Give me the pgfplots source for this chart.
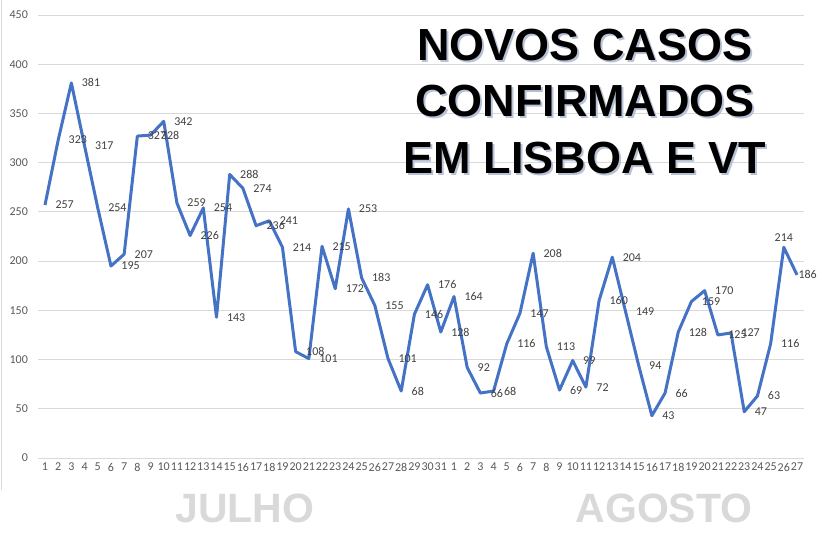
\documentclass[border=0pt]{standalone}
\usepackage{pgfplots}
\pgfplotsset{compat=1.18}
\usepackage{fontspec}
\setmainfont{Carlito}
\newfontfamily\titlefont{Liberation Sans}
\definecolor{excelblue}{HTML}{4472C4}
\definecolor{gridgray}{HTML}{D9D9D9}
\definecolor{ticktext}{HTML}{595959}
\definecolor{labeltext}{HTML}{404040}
\definecolor{shadowc}{HTML}{B8C2D6}
\definecolor{monthgray}{HTML}{D9D9D9}

% day index (1-31 July, 32-58 August), new cases
\pgfplotstableread{
x y
1 257
2 323
3 381
4 317
5 254
6 195
7 207
8 327
9 328
10 342
11 259
12 226
13 254
14 143
15 288
16 274
17 236
18 241
19 214
20 108
21 101
22 215
23 172
24 253
25 183
26 155
27 101
28 68
29 146
30 176
31 128
32 164
33 92
34 66
35 68
36 116
37 147
38 208
39 113
40 69
41 99
42 72
43 160
44 204
45 149
46 94
47 43
48 66
49 128
50 159
51 170
52 125
53 127
54 47
55 63
56 116
57 214
58 186
}\casos

\begin{document}
\begin{tikzpicture}
\useasboundingbox (-38.4bp,-80bp) rectangle (781.6bp,458bp);
\draw[gridgray, line width=0.8bp] (-37.4bp,-32bp) -- (-37.4bp,458bp);
\begin{axis}[
  at={(0,0)}, anchor=south west,
  scale only axis,
  width=765.2bp, height=443bp,
  xmin=0.5, xmax=58.5,
  ymin=0, ymax=450,
  ytick={0,50,...,450},
  xtick={1,...,58},
  xticklabels={1,2,3,4,5,6,7,8,9,10,11,12,13,14,15,16,17,18,19,20,21,22,23,24,25,26,27,28,29,30,31,
               1,2,3,4,5,6,7,8,9,10,11,12,13,14,15,16,17,18,19,20,21,22,23,24,25,26,27},
  axis line style={draw=none},
  major tick length=0pt,
  ymajorgrids,
  grid style={gridgray, line width=0.8bp},
  /pgf/number format/assume math mode=true,
  ticklabel style={font=\fontsize{12bp}{14bp}\selectfont, text=ticktext},
  xticklabel style={yshift=-4bp, inner sep=1pt},
  yticklabel style={xshift=-7bp},
  clip=false,
]
\addplot[excelblue, line width=3bp, mark=none, line join=round] table[x=x,y=y] {\casos};
% data labels
\addplot[draw=none, mark=none,
  nodes near coords,
  every node near coord/.style={anchor=west, xshift=7bp, font=\fontsize{12bp}{14bp}\selectfont, text=labeltext},
  restrict x to domain=1:56,
] table[x=x,y=y] {\casos};
\addplot[draw=none, mark=none,
  nodes near coords,
  every node near coord/.style={anchor=south, yshift=2bp, font=\fontsize{12bp}{14bp}\selectfont, text=labeltext},
  restrict x to domain=57:57,
] table[x=x,y=y] {\casos};
\addplot[draw=none, mark=none,
  nodes near coords,
  every node near coord/.style={anchor=west, xshift=-2bp, font=\fontsize{12bp}{14bp}\selectfont, text=labeltext},
  restrict x to domain=58:58,
] table[x=x,y=y] {\casos};
\end{axis}
% title with shadow
\begin{scope}[every node/.style={anchor=base, inner sep=0pt, font=\titlefont\bfseries\fontsize{45bp}{50bp}\selectfont}]
\node[text=shadowc] at (548.6bp,395bp) {NOVOS CASOS};
\node[text=shadowc] at (548.6bp,339bp) {CONFIRMADOS};
\node[text=shadowc] at (548.6bp,282bp) {EM LISBOA E VT};
\node[text=black] at (546.6bp,397bp) {NOVOS CASOS};
\node[text=black] at (546.6bp,341bp) {CONFIRMADOS};
\node[text=black] at (546.6bp,284bp) {EM LISBOA E VT};
\end{scope}
\node[anchor=base, inner sep=0pt, text=monthgray, font=\titlefont\bfseries\fontsize{41bp}{46bp}\selectfont] at (206.6bp,-64bp) {JULHO};
\node[anchor=base, inner sep=0pt, text=monthgray, font=\titlefont\bfseries\fontsize{41bp}{46bp}\selectfont] at (625.6bp,-64bp) {AGOSTO};
\end{tikzpicture}
\end{document}
